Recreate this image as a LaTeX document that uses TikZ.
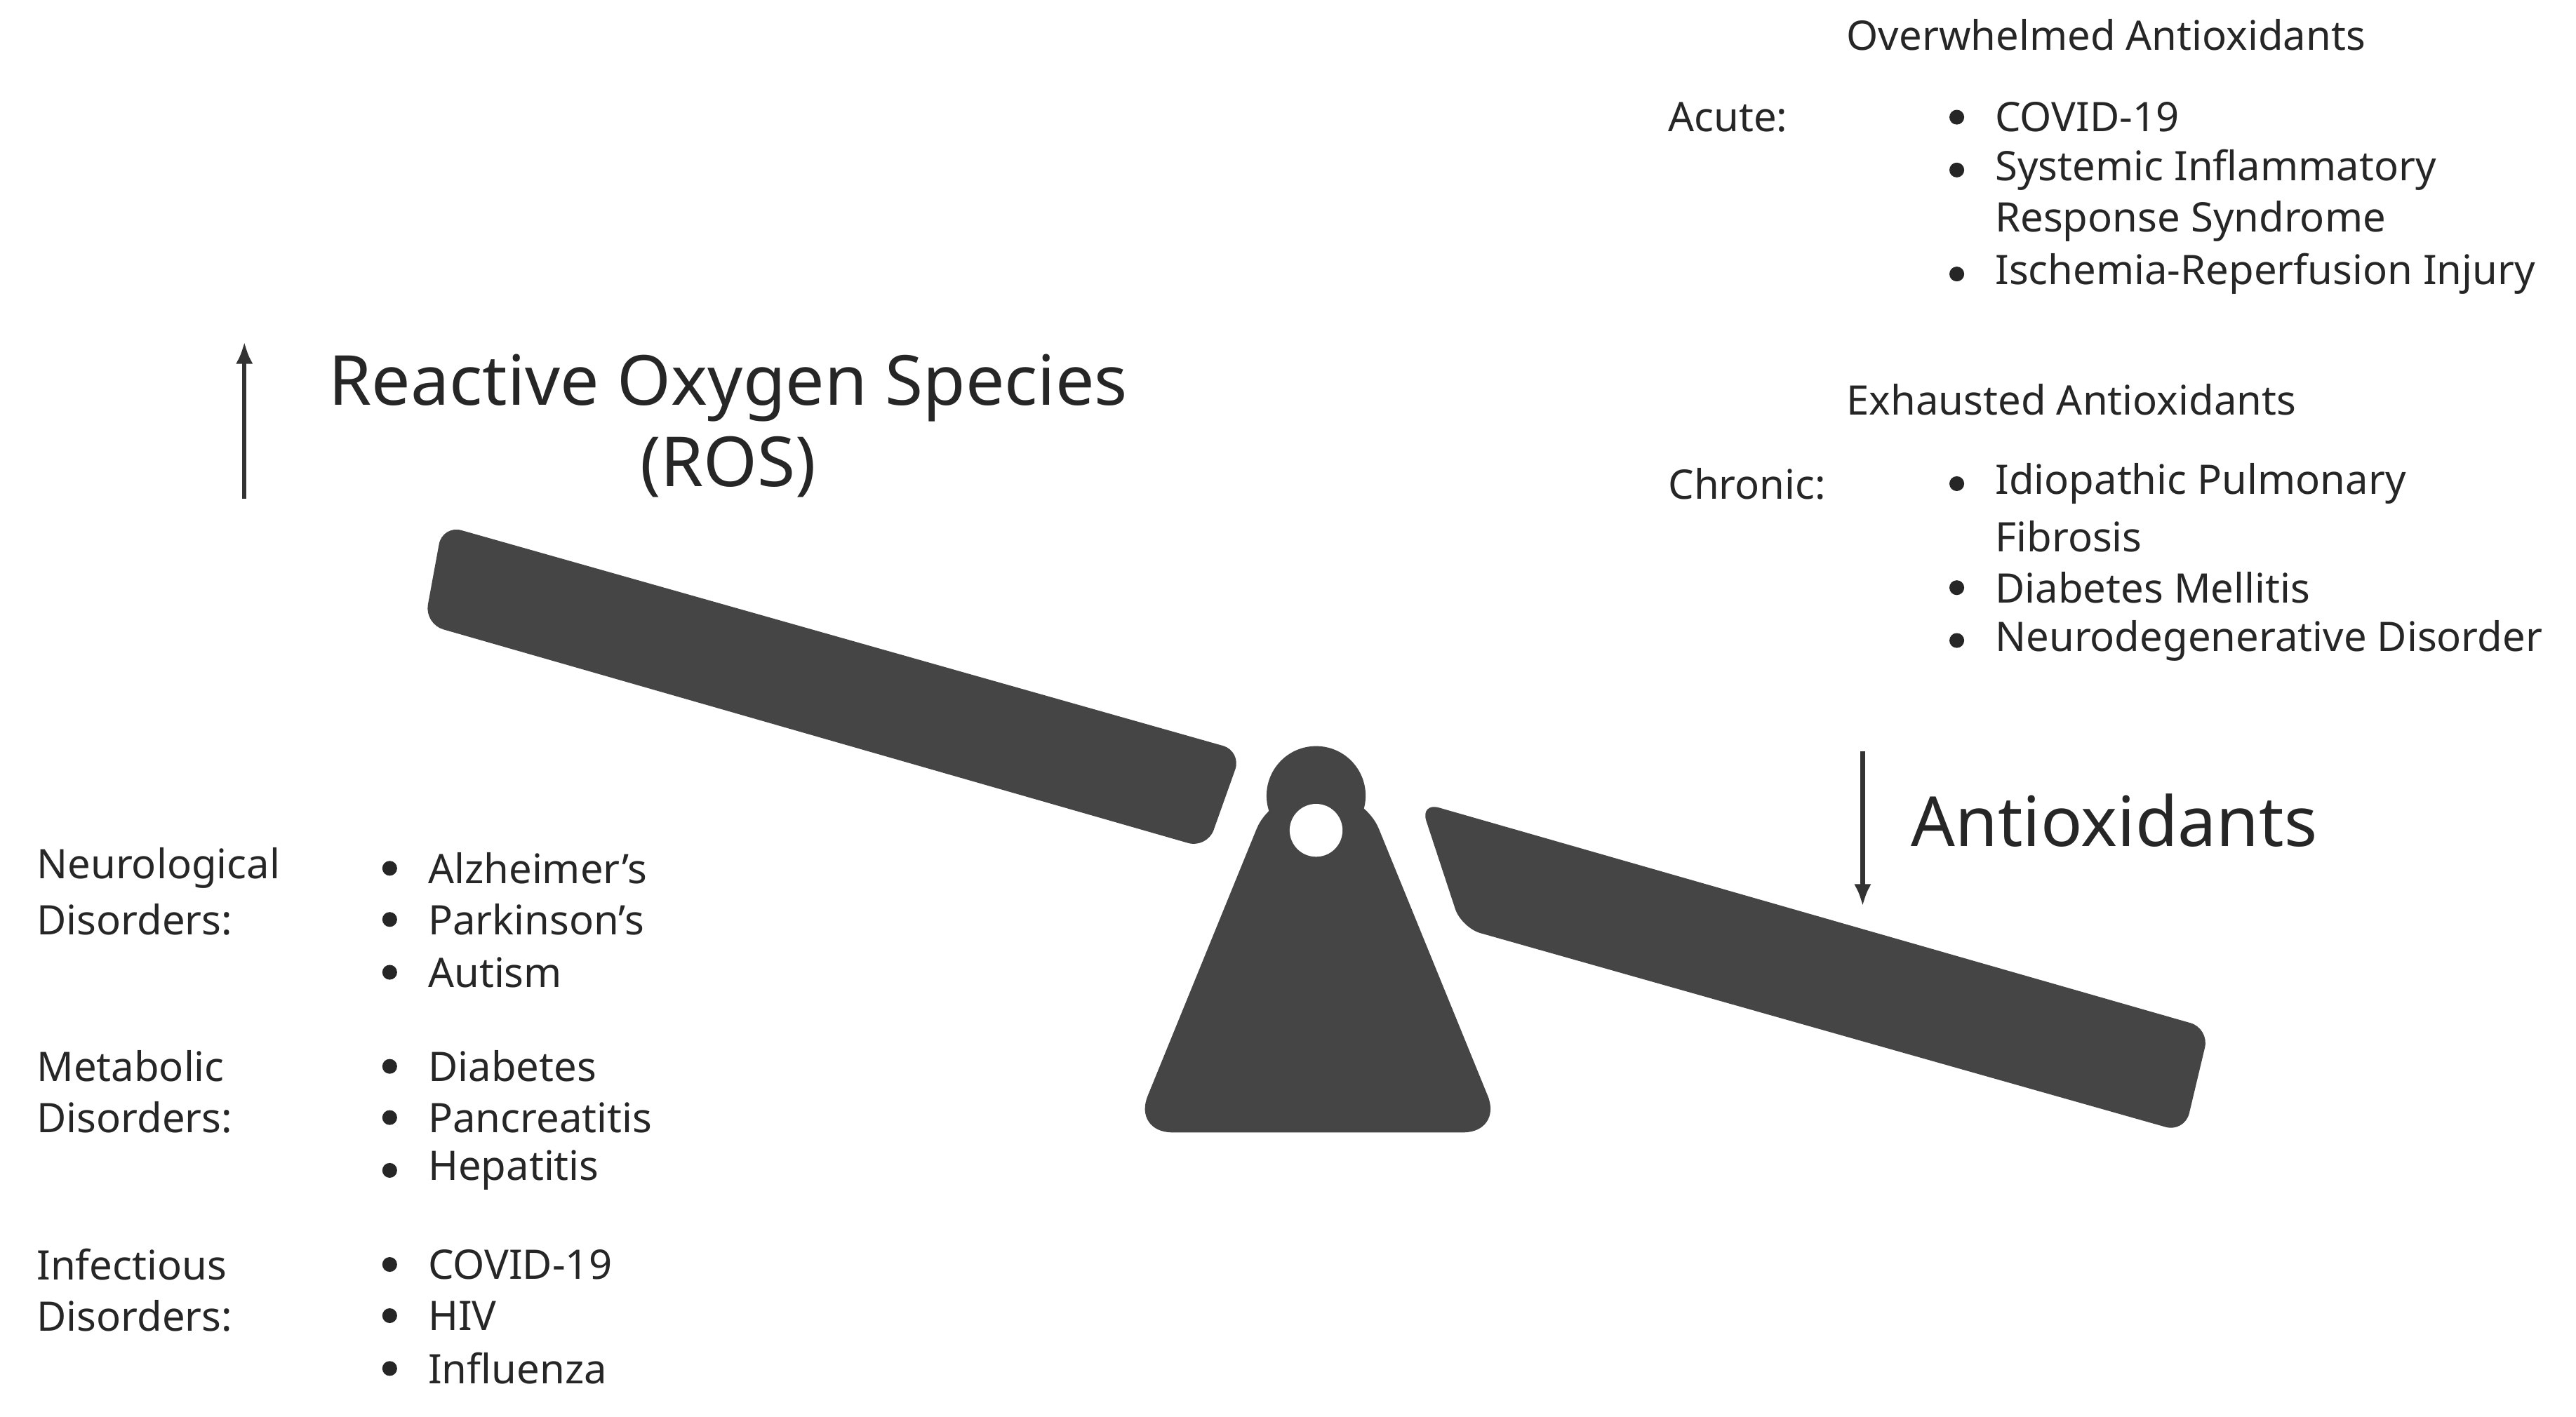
\documentclass[tikz,border=0pt]{standalone}
\usepackage{fontspec}
\usetikzlibrary{arrows.meta}
\setmainfont{Noto Sans}
\begin{document}
\begin{tikzpicture}[x=0.02353cm,y=-0.02353cm,
  t/.style={anchor=west,inner sep=0pt,font=\fontsize{16.5}{19}\selectfont,text=black!85},
  big/.style={inner sep=0pt,font=\fontsize{28}{33}\selectfont,text=black!85},
  b/.style={circle,fill=black!85,inner sep=0pt,minimum size=6pt},
  dark/.style={fill=black!73},
  arr/.style={-{Latex[length=9pt,width=7pt]},line width=1.8pt,black!80}]
\useasboundingbox (0,0) rectangle (1560,858);
% planks
\fill[dark,rounded corners=8] (268,318) -- (752,455) -- (731,514) -- (257,378) -- cycle;
\fill[dark,rounded corners=8] (860,486) -- (1338,623) -- (1323,686) -- (885,562) -- cycle;
% fulcrum
\fill[dark,rounded corners=16] (770,480) -- (686,686) -- (910,686) -- (826,480) -- cycle;
\fill[dark] (797,482) circle (30);
\fill[white] (797,503) circle (16);
% arrows
\coordinate (ua) at (148,302); \coordinate (ub) at (148,207);
\draw[arr] (ua) -- (ub);
\coordinate (da) at (1128,455); \coordinate (db) at (1128,549);
\draw[arr] (da) -- (db);
\node[big,align=center] (ros) at (441,258) {Reactive Oxygen Species\\(ROS)};
\node[big,anchor=west] (anti) at (1157,497) {Antioxidants};
% top right
\node[t] (ow) at (1118,21) {Overwhelmed Antioxidants};
\node[t] (ac) at (1010,71) {Acute:};
\foreach \y/\s [count=\i] in {71/COVID-19,103/Systemic Inflammatory,134/Response Syndrome,166/Ischemia-Reperfusion Injury}{
  \node[t] (a\i) at (1208,\y) {\s};}
\foreach \y [count=\i] in {71,103,166}{\node[b] (ab\i) at (1185,\y) {};}
\node[t] (ex) at (1118,242) {Exhausted Antioxidants};
\node[t] (ch) at (1010,293) {Chronic:};
\foreach \y/\s [count=\i] in {293/Idiopathic Pulmonary,325/Fibrosis,356/Diabetes Mellitis,388/Neurodegenerative Disorder}{
  \node[t] (c\i) at (1208,\y) {\s};}
\foreach \y [count=\i] in {293,356,388}{\node[b] (cb\i) at (1185,\y) {};}
% left
\node[t] (n1) at (22,526) {Neurological}; \node[t] (n2) at (22,557) {Disorders:};
\node[t] (m1) at (22,646) {Metabolic}; \node[t] (m2) at (22,677) {Disorders:};
\node[t] (f1) at (22,766) {Infectious}; \node[t] (f2) at (22,797) {Disorders:};
\foreach \y/\s [count=\i] in {526/Alzheimer's,557/Parkinson's,589/Autism,646/Diabetes,677/Pancreatitis,709/Hepatitis,766/COVID-19,797/HIV,829/Influenza}{
  \node[t] (l\i) at (259,\y) {\s};
  \node[b] (lb\i) at (236,\y) {};}
\end{tikzpicture}
\end{document}
